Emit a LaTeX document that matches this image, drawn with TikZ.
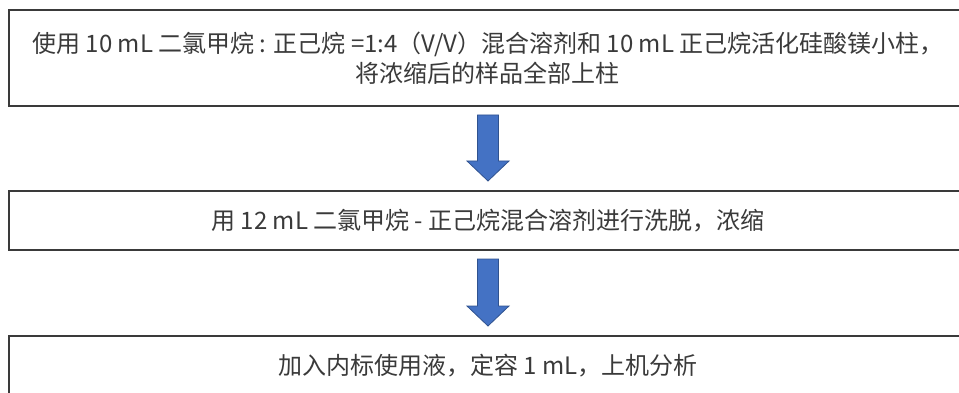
\documentclass[tikz,border=0pt]{standalone}
\usepackage{fontspec}
\setmainfont{Noto Sans CJK SC}
\usetikzlibrary{calc}
\definecolor{boxline}{HTML}{3A3A3A}
\definecolor{txt}{HTML}{3A3A3A}
\definecolor{arrfill}{HTML}{4472C4}
\definecolor{arrdraw}{HTML}{2F528F}
\tikzset{
  stepbox/.style={draw=boxline, line width=2pt, fill=white, minimum width=958pt, inner sep=0pt,
    align=center, text=txt, font=\fontsize{24}{30.5}\selectfont},
  blockarr/.style={fill=arrfill, draw=arrdraw, line width=0.8pt, line join=miter}
}
\newcommand{\downarr}[2]{%
  \path ($(#1.south)+(0,8)$) coordinate (atop) ($(#2.north)+(0,-9)$) coordinate (atip);
  \draw[blockarr] ($(atop)+(-10.5,0)$) -- ($(atop)+(10.5,0)$) -- ($(atip)+(10.5,-20)$) -- ($(atip)+(21,-20)$)
    -- (atip) -- ($(atip)+(-21,-20)$) -- ($(atip)+(-10.5,-20)$) -- cycle;}
\begin{document}
\begin{tikzpicture}[x=1pt,y=-1pt]
\useasboundingbox (0,0) rectangle (959,393);
\node[stepbox, minimum height=96pt] (b1) at (488,58) {使用 10 mL 二氯甲烷 : 正己烷 =1:4（V/V）混合溶剂和 10 mL 正己烷活化硅酸镁小柱，\\将浓缩后的样品全部上柱};
\node[stepbox, minimum height=59pt] (b2) at (488,220.5) {用 12 mL 二氯甲烷 - 正己烷混合溶剂进行洗脱，浓缩};
\node[stepbox, minimum height=59pt] (b3) at (488,365.5) {加入内标使用液，定容 1 mL，上机分析};
\downarr{b1}{b2}
\downarr{b2}{b3}
\end{tikzpicture}
\end{document}
